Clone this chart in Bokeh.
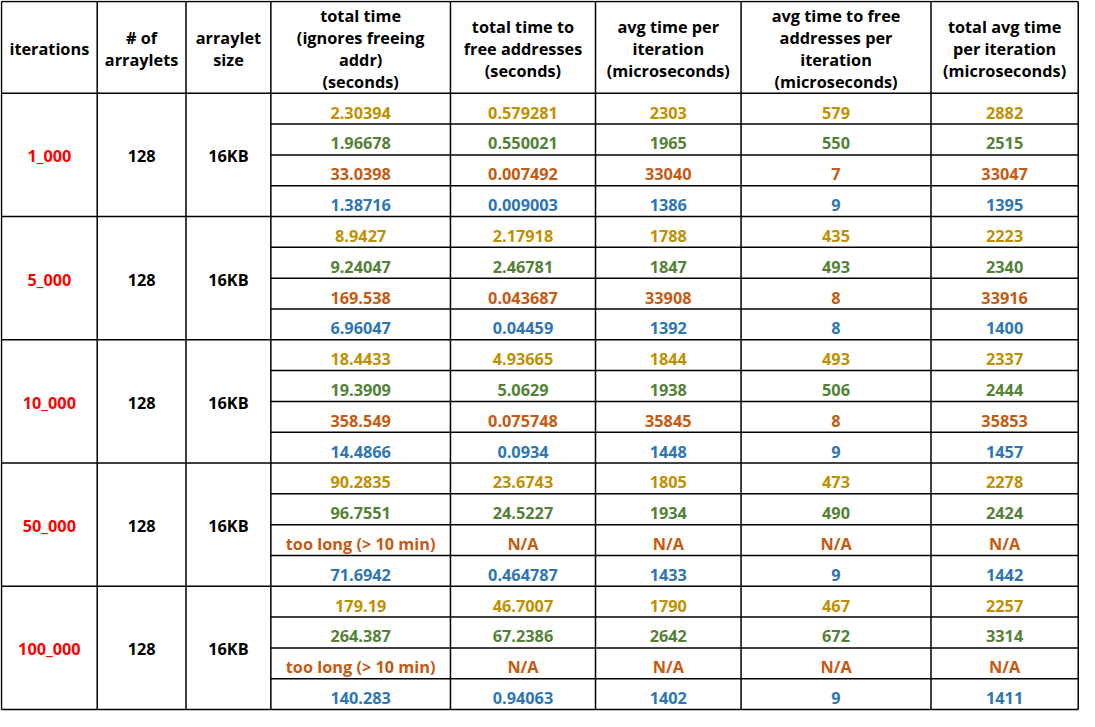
from bokeh.plotting import figure
from bokeh.models import Range1d
from bokeh.embed import file_html
from bokeh.resources import INLINE
from bokeh.core.properties import value

# ---------------- data ----------------
headers = [
    ["iterations"],
    ["# of", "arraylets"],
    ["arraylet", "size"],
    ["total time", "(ignores freeing", "addr)", "(seconds)"],
    ["total time to", "free addresses", "(seconds)"],
    ["avg time per", "iteration", "(microseconds)"],
    ["avg time to free", "addresses per", "iteration", "(microseconds)"],
    ["total avg time", "per iteration", "(microseconds)"],
]
iterations = ["1_000", "5_000", "10_000", "50_000", "100_000"]
num_arraylets = ["128", "128", "128", "128", "128"]
arraylet_size = ["16KB", "16KB", "16KB", "16KB", "16KB"]

total_time = [
    ["2.30394", "1.96678", "33.0398", "1.38716"],
    ["8.9427", "9.24047", "169.538", "6.96047"],
    ["18.4433", "19.3909", "358.549", "14.4866"],
    ["90.2835", "96.7551", "too long (> 10 min)", "71.6942"],
    ["179.19", "264.387", "too long (> 10 min)", "140.283"],
]
free_time = [
    ["0.579281", "0.550021", "0.007492", "0.009003"],
    ["2.17918", "2.46781", "0.043687", "0.04459"],
    ["4.93665", "5.0629", "0.075748", "0.0934"],
    ["23.6743", "24.5227", "N/A", "0.464787"],
    ["46.7007", "67.2386", "N/A", "0.94063"],
]
avg_time = [
    ["2303", "1965", "33040", "1386"],
    ["1788", "1847", "33908", "1392"],
    ["1844", "1938", "35845", "1448"],
    ["1805", "1934", "N/A", "1433"],
    ["1790", "2642", "N/A", "1402"],
]
avg_free = [
    ["579", "550", "7", "9"],
    ["435", "493", "8", "8"],
    ["493", "506", "8", "9"],
    ["473", "490", "N/A", "9"],
    ["467", "672", "N/A", "9"],
]
total_avg = [
    ["2882", "2515", "33047", "1395"],
    ["2223", "2340", "33916", "1400"],
    ["2337", "2444", "35853", "1457"],
    ["2278", "2424", "N/A", "1442"],
    ["2257", "3314", "N/A", "1411"],
]
row_colors = ["#BF9000", "#538135", "#C55A11", "#2E75B6"]
label_color = "#FF0000"

# ---------------- layout ----------------
col_edges = [1.5, 98.5, 188.5, 274.5, 456.5, 603.5, 751.0, 943.5, 1092.7]
top = 2.5
header_bottom = 96.0
sub_h = 31.375
n_groups = len(iterations)
n_sub = 4
bottom = header_bottom + n_groups * n_sub * sub_h

FONT = value("Open Sans")
FS = "16.3px"

p = figure(width=1079, height=711, output_backend="svg", toolbar_location=None,
           x_range=Range1d(0.5, 1094.0), y_range=Range1d(725.5, 1.5),
           min_border=0, background_fill_color="white", border_fill_color="white")
p.axis.visible = False
p.grid.visible = False
p.outline_line_color = None

# grid lines
x0s, y0s, x1s, y1s = [], [], [], []
for x in col_edges:
    x0s.append(x); x1s.append(x); y0s.append(top); y1s.append(bottom)
x0s.append(col_edges[0]); x1s.append(col_edges[-1]); y0s.append(top); y1s.append(top)
x0s.append(col_edges[0]); x1s.append(col_edges[-1]); y0s.append(header_bottom); y1s.append(header_bottom)
for g in range(n_groups):
    for s in range(1, n_sub + 1):
        y = header_bottom + (g * n_sub + s) * sub_h
        xs = col_edges[0] if s == n_sub else col_edges[3]
        x0s.append(xs); x1s.append(col_edges[-1]); y0s.append(y); y1s.append(y)
p.segment(x0=x0s, y0=y0s, x1=x1s, y1=y1s, line_color="black", line_width=1.5)

centers = [(col_edges[i] + col_edges[i + 1]) / 2 for i in range(len(col_edges) - 1)]

# header text
hx, hy, ht = [], [], []
hc = (top + header_bottom) / 2 + 1.5
lh = 22.3
for i, lines in enumerate(headers):
    n = len(lines)
    for j, t in enumerate(lines):
        hx.append(centers[i]); hy.append(hc + (j - (n - 1) / 2) * lh); ht.append(t)
p.text(x=hx, y=hy, text=ht, text_align="center", text_baseline="middle",
       text_font=FONT, text_font_style="bold", text_font_size=FS, text_color="black")

# merged group cells
gx, gy, gt, gc = [], [], [], []
for g in range(n_groups):
    yc = header_bottom + (g * n_sub + n_sub / 2) * sub_h + 1.5
    for ci, col, colr in [(0, iterations, label_color), (1, num_arraylets, "black"),
                          (2, arraylet_size, "black")]:
        gx.append(centers[ci]); gy.append(yc); gt.append(col[g]); gc.append(colr)
p.text(x=gx, y=gy, text=gt, text_color=gc, text_align="center", text_baseline="middle",
       text_font=FONT, text_font_style="bold", text_font_size=FS)

# data cells
dx, dy, dt, dc = [], [], [], []
for ci, table in [(3, total_time), (4, free_time), (5, avg_time), (6, avg_free), (7, total_avg)]:
    for g in range(n_groups):
        for s in range(n_sub):
            yc = header_bottom + (g * n_sub + s + 0.5) * sub_h + 4.0
            dx.append(centers[ci]); dy.append(yc); dt.append(table[g][s]); dc.append(row_colors[s])
p.text(x=dx, y=dy, text=dt, text_color=dc, text_align="center", text_baseline="middle",
       text_font=FONT, text_font_style="bold", text_font_size=FS)

open("out.html", "w").write(file_html(p, INLINE))
